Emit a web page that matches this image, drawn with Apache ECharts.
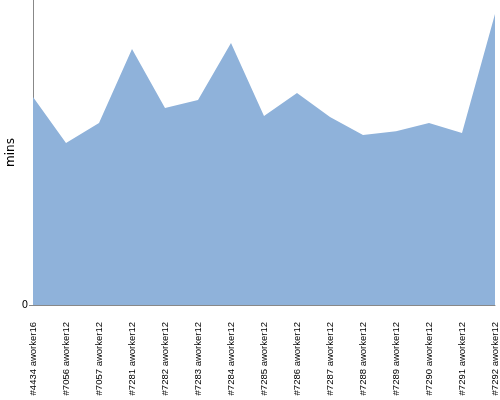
<!DOCTYPE html>
<html>
<head>
<meta charset="utf-8">
<script src="https://cdn.jsdelivr.net/npm/echarts@6/dist/echarts.min.js"></script>
<style>html,body{margin:0;padding:0;background:#fff}#c{width:500px;height:400px}</style>
</head>
<body>
<div id="c"></div>
<script>
const categories = ["#4434 aworker16","#7056 aworker12","#7057 aworker12","#7281 aworker12","#7282 aworker12","#7283 aworker12","#7284 aworker12","#7285 aworker12","#7286 aworker12","#7287 aworker12","#7288 aworker12","#7289 aworker12","#7290 aworker12","#7291 aworker12","#7292 aworker12"];
const minsValues = [68.2, 53.1, 59.7, 83.9, 64.6, 67.2, 85.9, 62.0, 69.5, 61.6, 55.7, 57.0, 59.7, 56.4, 95.4];
const yTicks = [0];

const chart = echarts.init(document.getElementById('c'), null, {renderer: 'canvas'});
chart.setOption({
  animation: false,
  grid: {left: 33, right: 5, top: 0, bottom: 95, containLabel: false, outerBoundsMode: 'none'},
  xAxis: {
    type: 'category',
    data: categories,
    boundaryGap: false,
    axisLine: {lineStyle: {color: '#888888', width: 1}},
    axisTick: {show: false},
    axisLabel: {
      rotate: 90, interval: 0, margin: 17,
      fontSize: 9.5, fontFamily: 'Liberation Sans Narrow, Liberation Sans, sans-serif', color: '#000'
    },
    splitLine: {show: false}
  },
  yAxis: {
    type: 'value',
    min: 0, max: 100, interval: 100,
    name: 'mins', nameLocation: 'middle', nameGap: 16, nameMoveOverlap: false,
    nameTextStyle: {fontSize: 12, color: '#000', fontFamily: 'DejaVu Sans, sans-serif'},
    axisLine: {show: true, lineStyle: {color: '#888888', width: 1}},
    axisTick: {show: true, length: 4, customValues: yTicks, lineStyle: {color: '#888888'}},
    axisLabel: {
      fontSize: 10, color: '#000', margin: 5, fontFamily: 'DejaVu Sans, sans-serif',
      customValues: yTicks
    },
    splitLine: {show: false}
  },
  series: [{
    type: 'line',
    data: minsValues,
    symbol: 'none',
    lineStyle: {width: 0, color: '#8fb2da'},
    itemStyle: {color: '#8fb2da'},
    areaStyle: {color: '#8fb2da', opacity: 1}
  }]
});
</script>
</body>
</html>
